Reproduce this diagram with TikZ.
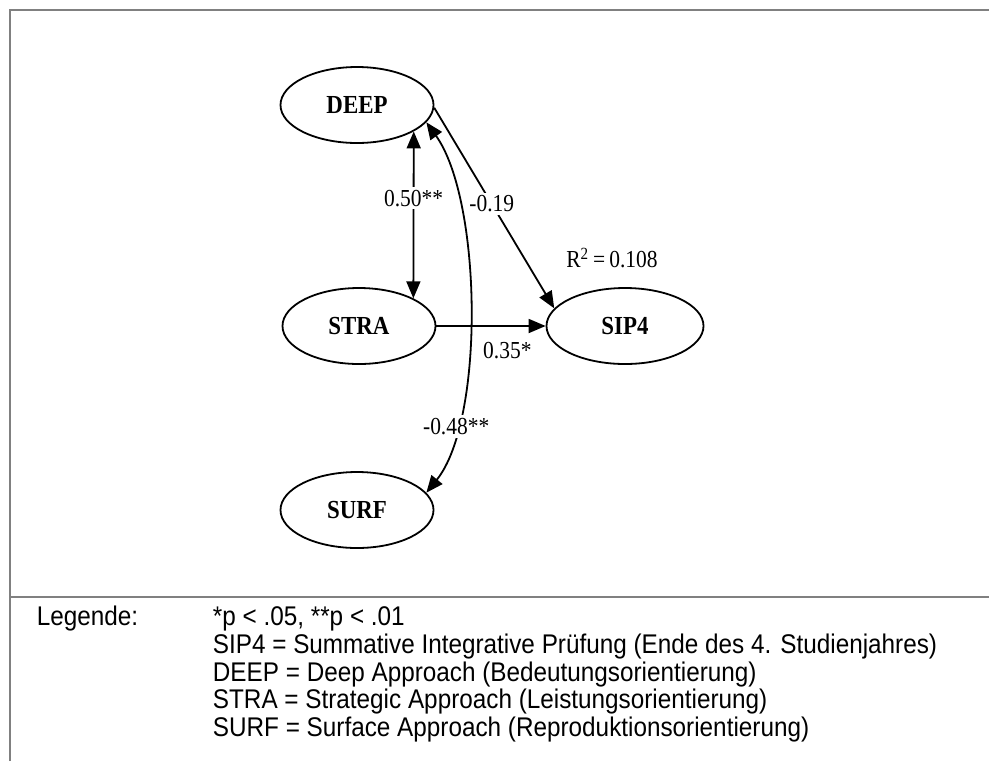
\documentclass[tikz,border=0pt]{standalone}
\usepackage{fontspec}
\setmainfont{Liberation Serif}
\setsansfont{Liberation Sans}
\newfontfamily\narrowserif[FakeStretch=0.88]{Liberation Serif}
\newfontfamily\narrowsans[FakeStretch=0.9]{Liberation Sans}
\usetikzlibrary{shapes.geometric}
\usetikzlibrary{arrows.meta}

\begin{document}
\begin{tikzpicture}[x=0.5pt, y=-0.5pt, line width=0.9pt,
            latent/.style={ellipse, draw, minimum width=76.5pt, minimum height=38pt, inner sep=0pt,
                           font=\narrowserif\bfseries\fontsize{13}{15}\selectfont},
            effect/.style={-{Triangle[length=8.5pt, width=7pt]}},
            corr/.style={{Triangle[length=8.5pt, width=7pt]}-{Triangle[length=8.5pt, width=7pt]}},
            coef/.style={font=\narrowserif\fontsize{12.2}{14}\selectfont, inner sep=1.5pt},
            frame/.style={draw=gray, line width=1pt},
            legend/.style={font=\narrowsans\fontsize{13.5}{16}\selectfont, anchor=west, inner sep=0pt}]
            \useasboundingbox (0, 0) rectangle (989, 761);

            % draw frame and separator
            \draw[frame] (10, 761) -- (10, 10) -- (989, 10);
            \draw[frame] (10, 597) -- (989, 597);

            % draw latent variables
            \node[latent] (deep) at (357, 105) {DEEP};
            \node[latent] (stra) at (359, 326) {STRA};
            \node[latent, minimum width=78.5pt] (sip) at (625, 326) {SIP4};
            \node[latent] (surf) at (357, 510) {SURF};
            \node[coef] (rsq) at (612, 258) {R\textsuperscript{2}\,=\,0.108};

            % draw paths and correlations
            \draw[corr] (deep.-25.6) -- node[coef, fill=white, pos=0.4] {0.50**} (stra.27.3);
            \draw[effect] (deep.-2) -- node[coef, fill=white, pos=0.48] {-0.19} (sip.166);
            \draw[effect] (stra.east) -- node[coef, below=6pt, pos=0.65] {0.35*} (sip.west);
            \draw[corr] (deep.-14) .. controls (482, 200) and (485, 420) .. 
                        node[coef, fill=white, pos=0.78] {-0.48**} (surf.14);

            % draw legend
            \node[legend] (leg) at (36, 619) {Legende:};
            \node[legend] (sig) at (212, 619) {*p < .05, **p < .01};
            \node[legend] (lsip) at (212, 647) {SIP4 = Summative Integrative Prüfung (Ende des 4. Studienjahres)};
            \node[legend] (ldeep) at (212, 675) {DEEP = Deep Approach (Bedeutungsorientierung)};
            \node[legend] (lstra) at (212, 702) {STRA = Strategic Approach (Leistungsorientierung)};
            \node[legend] (lsurf) at (212, 730) {SURF = Surface Approach (Reproduktionsorientierung)};
        \end{tikzpicture}
\end{document}
